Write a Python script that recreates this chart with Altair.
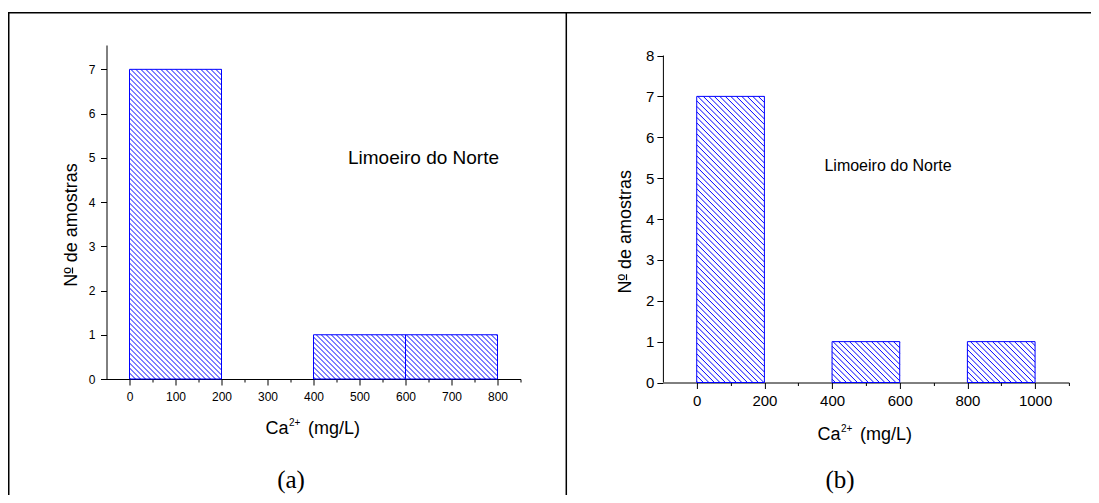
import math
import altair as alt
import pandas as pd

# ---------------- data ----------------
a_bin_start = [0, 400, 600]
a_bin_end = [200, 600, 800]
a_counts = [7, 1, 1]

b_bin_start = [0, 400, 800]
b_bin_end = [200, 600, 1000]
b_counts = [7, 1, 1]

place_label = "Limoeiro do Norte"
y_title = "Nº de amostras"
x_title_main = "Ca"
x_title_sup = "2+"
x_title_unit = "(mg/L)"
panel_tags = ["(a)", "(b)"]

a_x_ticks = list(range(0, 851, 50))
a_y_ticks = [i * 0.5 for i in range(0, 16)]
b_x_ticks = list(range(0, 1101, 100))
b_y_ticks = [i * 0.5 for i in range(0, 17)]

# ---------------- styles / layout ----------------
BLUE = "#0000ff"
SANS = "Liberation Sans"
SERIF = "Liberation Serif"

A_XD, A_YD, A_W, A_H = [-50, 850], [0, 7.55], 414, 334
B_XD, B_YD, B_W, B_H = [-100, 1100], [0, 8.257], 406, 337.5


def hatch_segments(starts, ends, counts, xd, yd, w, h, step):
    """45-degree hatch lines (top-left to bottom-right) inside each bar."""
    def px(x):
        return (x - xd[0]) / (xd[1] - xd[0]) * w

    def py(y):
        return (yd[1] - y) / (yd[1] - yd[0]) * h

    def ix(p):
        return xd[0] + p / w * (xd[1] - xd[0])

    def iy(p):
        return yd[1] - p / h * (yd[1] - yd[0])

    rows = []
    for x0, x1, c in zip(starts, ends, counts):
        X0, X1, Yt, Yb = px(x0), px(x1), py(c), py(0)
        kmin = math.floor((Yt - X1) / step)
        kmax = math.ceil((Yb - X0) / step)
        for k in range(kmin, kmax + 1):
            off = k * step
            lo = max(X0, Yt - off)
            hi = min(X1, Yb - off)
            if hi - lo > 0.4:
                rows.append({"x": ix(lo), "y": iy(lo + off),
                             "x2": ix(hi), "y2": iy(hi + off)})
    return pd.DataFrame(rows)


def make_axis(values, test, size, pad, domain=True):
    return alt.Axis(
        values=values, format="d",
        labelExpr=f"({test}) ? datum.label : ''",
        tickSize={"condition": {"test": test, "value": 6}, "value": 3},
        labelFontSize=size, labelFont=SANS, labelColor="black",
        labelPadding=pad, labelOverlap=False, labelFlush=False,
        domain=domain, domainColor="black", domainWidth=1,
        tickColor="black", tickWidth=1, title=None, grid=False,
    )


one = pd.DataFrame({"d": [0]})


def text(t, x, y, size, font=SANS, align="left", baseline="alphabetic", angle=0):
    kw = dict(text=t, font=font, fontSize=size, align=align,
              baseline=baseline, color="black")
    if angle:
        kw["angle"] = angle
    return alt.Chart(one).mark_text(**kw).encode(x=alt.value(x), y=alt.value(y))


def small_rule(x, y, y2, w=1.2):
    return alt.Chart(one).mark_rule(color="black", strokeWidth=w).encode(
        x=alt.value(x), y=alt.value(y), y2=alt.value(y2))


def panel(starts, ends, counts, xd, yd, w, h, step, xaxis, yaxis, extra):
    xs = alt.Scale(domain=xd, nice=False, zero=False)
    ys = alt.Scale(domain=yd, nice=False, zero=False)
    hd = hatch_segments(starts, ends, counts, xd, yd, w, h, step)
    bars_df = pd.DataFrame({"start": starts, "end": ends,
                            "count": counts, "base": [0] * len(counts)})
    hatch = alt.Chart(hd).mark_rule(color=BLUE, strokeWidth=1).encode(
        x=alt.X("x:Q", scale=xs, axis=xaxis),
        y=alt.Y("y:Q", scale=ys, axis=yaxis),
        x2="x2:Q", y2="y2:Q",
    )
    bars = alt.Chart(bars_df).mark_rect(
        fillOpacity=0, stroke=BLUE, strokeWidth=1
    ).encode(
        x=alt.X("start:Q", scale=xs, axis=xaxis), x2="end:Q",
        y=alt.Y("count:Q", scale=ys, axis=yaxis), y2="base:Q",
    )
    return alt.layer(hatch, bars, *extra).properties(width=w, height=h)


# frame of the two-cell table (panel (a) pixel frame, clipped by the svg)
frame_style = dict(color="black", strokeWidth=1.5)
frame = [
    alt.Chart(one).mark_rule(**frame_style).encode(
        x=alt.value(-98.5), x2=alt.value(995), y=alt.value(-32.25)),
    alt.Chart(one).mark_rule(**frame_style).encode(
        x=alt.value(-97.75), y=alt.value(-32.25), y2=alt.value(470)),
    alt.Chart(one).mark_rule(**frame_style).encode(
        x=alt.value(459.8), y=alt.value(-32.25), y2=alt.value(470)),
]

a_ycx, a_ycy = -34.5, 180
b_ycx, b_ycy = -36.9, 186.7

a_extra = frame + [
    text(place_label, 317, 118.5, 19, align="center"),
    text(y_title, a_ycx, a_ycy, 18, align="center", baseline="middle", angle=270),
    small_rule(a_ycx + 0.5, a_ycy + 48.5, a_ycy + 42.5),
    text(x_title_main, 159, 389, 18),
    text(x_title_sup, 182.5, 381, 10),
    text(x_title_unit, 201.5, 389, 18),
    text(panel_tags[0], 184.5, 442.5, 25, font=SERIF, align="center"),
]

b_extra = [
    alt.Chart(one).mark_rule(color="black", strokeWidth=1).encode(
        x=alt.value(0.5), y=alt.datum(0), y2=alt.datum(8)),
    text(place_label, 225.1, 125.5, 16, align="center"),
    text(y_title, b_ycx, b_ycy, 18, align="center", baseline="middle", angle=270),
    small_rule(b_ycx + 0.5, b_ycy + 48.5, b_ycy + 42.5),
    text(x_title_main, 154.6, 395, 18),
    text(x_title_sup, 178.1, 387, 10),
    text(x_title_unit, 197.1, 395, 18),
    text(panel_tags[1], 177.1, 443, 25, font=SERIF, align="center"),
]

pa = panel(a_bin_start, a_bin_end, a_counts, A_XD, A_YD, A_W, A_H, 5,
           make_axis(a_x_ticks, "datum.value % 100 === 0", 12, 6),
           make_axis(a_y_ticks, "datum.value % 1 === 0", 12, 5.5),
           a_extra)
pb = panel(b_bin_start, b_bin_end, b_counts, B_XD, B_YD, B_W, B_H, 5.5,
           make_axis(b_x_ticks, "datum.value % 200 === 0", 15, 4.5),
           make_axis(b_y_ticks, "datum.value % 1 === 0", 15, 3, domain=False),
           b_extra)

chart = alt.hconcat(pa, pb, spacing=142.4, bounds="flush").properties(
    autosize=alt.AutoSizeParams(type="none"),
    padding={"left": 98.5, "top": 37, "right": 984.5, "bottom": 450},
).configure_view(stroke=None).configure_axis(grid=False)

chart.save("out.html", embed_options={"renderer": "svg", "actions": False})
